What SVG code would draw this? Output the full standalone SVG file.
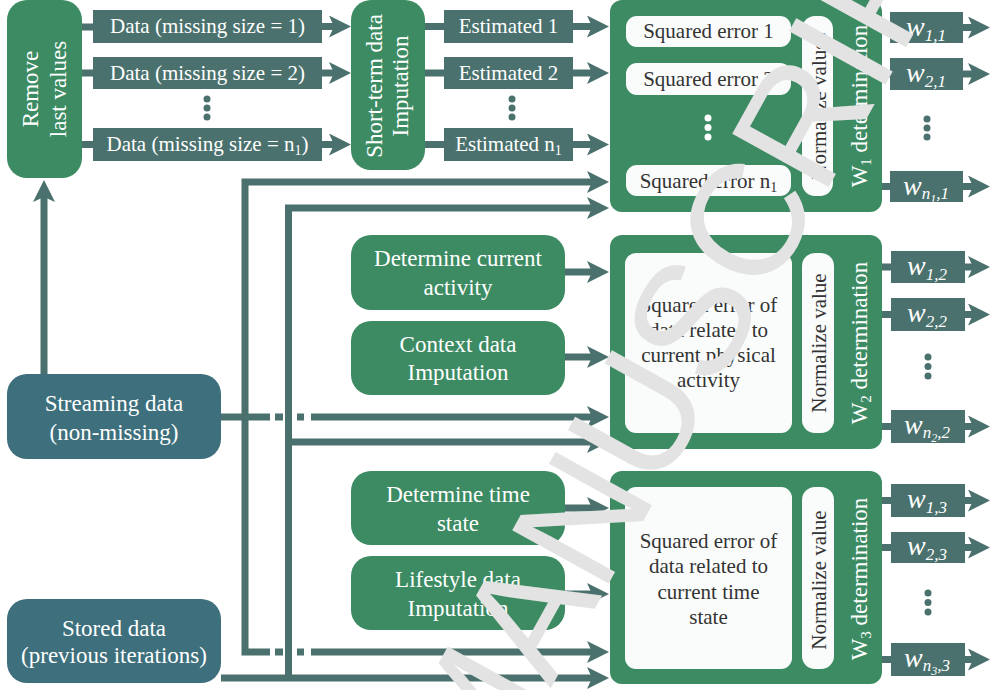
<svg xmlns="http://www.w3.org/2000/svg" width="991" height="690" viewBox="0 0 991 690" font-family="Liberation Serif, Times New Roman, serif">
<defs>
<style>
.g{fill:#3c8b63;}
.s{fill:#4a716d;}
.b{fill:#3d6f7c;}
.w{fill:#fafcfb;}
.tw{font-family:"Liberation Serif","Times New Roman",serif;fill:#ffffff;font-size:21px;text-anchor:middle;}
.tb{font-family:"Liberation Serif","Times New Roman",serif;fill:#ffffff;font-size:23px;text-anchor:middle;}
.td{font-family:"Liberation Serif","Times New Roman",serif;fill:#333333;font-size:21px;text-anchor:middle;}
.wl{font-family:"Liberation Serif","Times New Roman",serif;fill:#ffffff;font-size:28px;font-style:italic;text-anchor:middle;}
.ln{fill:none;stroke:#4a716d;stroke-width:7;}
.ar{marker-end:url(#ah);}
.wm{font-family:"Liberation Sans",Arial,sans-serif;font-size:160px;fill:#e3e3e3;}
</style>
<marker id="ah" viewBox="0 0 22 22" markerWidth="22" markerHeight="22" refX="12" refY="11" orient="auto" markerUnits="userSpaceOnUse">
<path d="M0,0 L22,11 L0,22 L5,11 Z" fill="#4a716d"/>
</marker>
</defs>

<g id="connectors">
<path class="ln" d="M81,27 H93 M81,73 H93 M81,144.5 H93"/>
<path class="ln ar" d="M322,26.5 H341"/>
<path class="ln ar" d="M322,73 H341"/>
<path class="ln ar" d="M322,144.5 H341"/>
<path class="ln" d="M425,26.5 H444 M425,73 H444 M425,144.5 H444"/>
<path class="ln ar" d="M573,26.5 H599"/>
<path class="ln ar" d="M573,73 H599"/>
<path class="ln ar" d="M573,144.5 H599"/>
<path class="ln ar" d="M44,374 V190"/>
<path class="ln ar" d="M270,652 H245 V182 H599"/>
<path class="ln" d="M275,652 H283 M297,652 H304"/>
<path class="ln ar" d="M311,652 H599"/>
<path class="ln" d="M221,417 H270 M275,417 H283 M297,417 H304"/>
<path class="ln ar" d="M311,417 H599"/>
<path class="ln ar" d="M221,678 H599"/>
<path class="ln ar" d="M288.5,678 V208 H599"/>
<path class="ln ar" d="M288.5,442 H599"/>
<path class="ln ar" d="M565,272 H599"/>
<path class="ln ar" d="M565,357 H599"/>
<path class="ln ar" d="M565,508 H599"/>
<path class="ln ar" d="M565,594 H599"/>
<path class="ln" d="M882,27.5 H890 M882,74 H890 M882,186.5 H890 M882,267 H891 M882,314.5 H891 M882,426.5 H891 M882,500.5 H891 M882,547.5 H891 M882,659.5 H891"/>
<path class="ln ar" d="M963,27.5 H980"/>
<path class="ln ar" d="M963,74 H980"/>
<path class="ln ar" d="M963,186.5 H980"/>
<path class="ln ar" d="M965,267 H980"/>
<path class="ln ar" d="M965,314.5 H980"/>
<path class="ln ar" d="M965,426.5 H980"/>
<path class="ln ar" d="M965,500.5 H980"/>
<path class="ln ar" d="M965,547.5 H980"/>
<path class="ln ar" d="M965,659.5 H980"/>
</g>

<g id="remove">
<rect class="g" x="7" y="0" width="75" height="178" rx="20"/>
<text class="tb" transform="translate(38,89) rotate(-90)">Remove</text>
<text class="tb" transform="translate(66,89) rotate(-90)">last values</text>
</g>

<g id="data-rows">
<rect class="s" x="93" y="10" width="229" height="33"/>
<text class="tw" x="207.5" y="33">Data (missing size = 1)</text>
<rect class="s" x="93" y="57" width="229" height="32"/>
<text class="tw" x="207.5" y="80">Data (missing size = 2)</text>
<rect class="s" x="93" y="128" width="229" height="33"/>
<text class="tw" x="207.5" y="151">Data (missing size = n<tspan font-size="14" dy="4">1</tspan><tspan dy="-4">)</tspan></text>
<circle class="s" cx="207" cy="99" r="3.5"/><circle class="s" cx="207" cy="108" r="3.5"/><circle class="s" cx="207" cy="117" r="3.5"/>
</g>

<g id="short-term">
<rect class="g" x="351" y="0" width="74" height="170" rx="20"/>
<text class="tb" transform="translate(382,86) rotate(-90)">Short-term data</text>
<text class="tb" transform="translate(408,86) rotate(-90)">Imputation</text>
</g>

<g id="estimated-rows">
<rect class="s" x="444" y="10" width="129" height="33"/>
<text class="tw" x="508.5" y="33">Estimated 1</text>
<rect class="s" x="444" y="57" width="129" height="32"/>
<text class="tw" x="508.5" y="80">Estimated 2</text>
<rect class="s" x="444" y="128" width="129" height="33"/>
<text class="tw" x="508.5" y="151">Estimated n<tspan font-size="14" dy="4">1</tspan></text>
<circle class="s" cx="512" cy="99" r="3.5"/><circle class="s" cx="512" cy="108" r="3.5"/><circle class="s" cx="512" cy="117" r="3.5"/>
</g>

<g id="w1">
<rect class="g" x="610" y="0" width="272" height="212" rx="12"/>
<rect class="w" x="626" y="16" width="165" height="31" rx="11"/>
<text class="td" x="708.5" y="38">Squared error 1</text>
<rect class="w" x="626" y="63" width="165" height="32" rx="11"/>
<text class="td" x="708.5" y="86">Squared error 2</text>
<rect class="w" x="626" y="165" width="165" height="31" rx="11"/>
<text class="td" x="708.5" y="188">Squared error n<tspan font-size="14" dy="4">1</tspan></text>
<circle fill="#ffffff" cx="708" cy="118" r="3.5"/><circle fill="#ffffff" cx="708" cy="127.5" r="3.5"/><circle fill="#ffffff" cx="708" cy="137" r="3.5"/>
<rect class="w" x="802" y="16" width="31" height="180" rx="13"/>
<text class="td" transform="translate(826,106) rotate(-90)">Normalize values</text>
<text class="tb" transform="translate(867,106) rotate(-90)">W<tspan font-size="15" dy="4">1</tspan><tspan dy="-4"> determination</tspan></text>
</g>

<g id="w1-outputs">
<rect class="s" x="890" y="12" width="73" height="31"/>
<text class="wl" x="926" y="36">w<tspan font-size="17" dy="5">1,1</tspan></text>
<rect class="s" x="890" y="58" width="73" height="32"/>
<text class="wl" x="926" y="82">w<tspan font-size="17" dy="5">2,1</tspan></text>
<rect class="s" x="890" y="171" width="73" height="31"/>
<text class="wl" x="926" y="195">w<tspan font-size="17" dy="4">n</tspan><tspan font-size="12" dy="4">1</tspan><tspan font-size="17" dy="-4">,1</tspan></text>
<circle class="s" cx="927" cy="119" r="3.5"/><circle class="s" cx="927" cy="128" r="3.5"/><circle class="s" cx="927" cy="137" r="3.5"/>
</g>

<g id="determine-activity">
<rect class="g" x="351" y="235" width="214" height="75" rx="20"/>
<text class="tb" x="458" y="266">Determine current</text>
<text class="tb" x="458" y="295">activity</text>
</g>

<g id="context-imputation">
<rect class="g" x="351" y="321" width="214" height="74" rx="20"/>
<text class="tb" x="458" y="352">Context data</text>
<text class="tb" x="458" y="380">Imputation</text>
</g>

<g id="w2">
<rect class="g" x="610" y="235" width="272" height="214" rx="12"/>
<rect class="w" x="625" y="253" width="167" height="180" rx="11"/>
<text class="td" x="708.5" y="312">Squared error of</text>
<text class="td" x="708.5" y="337">data related to</text>
<text class="td" x="708.5" y="362">current physical</text>
<text class="td" x="708.5" y="387">activity</text>
<rect class="w" x="802" y="253" width="32" height="180" rx="13"/>
<text class="td" transform="translate(826,343) rotate(-90)">Normalize value</text>
<text class="tb" transform="translate(867,343) rotate(-90)">W<tspan font-size="15" dy="4">2</tspan><tspan dy="-4"> determination</tspan></text>
</g>

<g id="w2-outputs">
<rect class="s" x="891" y="251" width="74" height="32"/>
<text class="wl" x="927" y="275">w<tspan font-size="17" dy="5">1,2</tspan></text>
<rect class="s" x="891" y="298" width="74" height="33"/>
<text class="wl" x="927" y="322">w<tspan font-size="17" dy="5">2,2</tspan></text>
<rect class="s" x="891" y="410" width="74" height="33"/>
<text class="wl" x="927" y="434">w<tspan font-size="17" dy="4">n</tspan><tspan font-size="12" dy="4">2</tspan><tspan font-size="17" dy="-4">,2</tspan></text>
<circle class="s" cx="928" cy="357" r="3.5"/><circle class="s" cx="928" cy="366.5" r="3.5"/><circle class="s" cx="928" cy="376" r="3.5"/>
</g>

<g id="streaming">
<rect class="b" x="7" y="374" width="214" height="85" rx="20"/>
<text class="tb" x="114" y="411">Streaming data</text>
<text class="tb" x="114" y="440">(non-missing)</text>
</g>

<g id="determine-time">
<rect class="g" x="351" y="471" width="214" height="74" rx="20"/>
<text class="tb" x="458" y="502">Determine time</text>
<text class="tb" x="458" y="531">state</text>
</g>

<g id="lifestyle-imputation">
<rect class="g" x="351" y="556" width="214" height="74" rx="20"/>
<text class="tb" x="458" y="587">Lifestyle data</text>
<text class="tb" x="458" y="616">Imputation</text>
</g>

<g id="w3">
<rect class="g" x="610" y="471" width="272" height="213" rx="12"/>
<rect class="w" x="625" y="487" width="167" height="182" rx="11"/>
<text class="td" x="708.5" y="548">Squared error of</text>
<text class="td" x="708.5" y="573">data related to</text>
<text class="td" x="708.5" y="599">current time</text>
<text class="td" x="708.5" y="624">state</text>
<rect class="w" x="802" y="487" width="32" height="182" rx="13"/>
<text class="td" transform="translate(826,580) rotate(-90)">Normalize value</text>
<text class="tb" transform="translate(867,579) rotate(-90)">W<tspan font-size="15" dy="4">3</tspan><tspan dy="-4"> determination</tspan></text>
</g>

<g id="w3-outputs">
<rect class="s" x="891" y="484" width="74" height="33"/>
<text class="wl" x="927" y="508">w<tspan font-size="17" dy="5">1,3</tspan></text>
<rect class="s" x="891" y="532" width="74" height="31"/>
<text class="wl" x="927" y="555">w<tspan font-size="17" dy="5">2,3</tspan></text>
<rect class="s" x="891" y="643" width="74" height="33"/>
<text class="wl" x="927" y="667">w<tspan font-size="17" dy="4">n</tspan><tspan font-size="12" dy="4">3</tspan><tspan font-size="17" dy="-4">,3</tspan></text>
<circle class="s" cx="928" cy="593" r="3.5"/><circle class="s" cx="928" cy="602.5" r="3.5"/><circle class="s" cx="928" cy="612" r="3.5"/>
</g>

<g id="stored">
<rect class="b" x="7" y="599" width="214" height="84" rx="20"/>
<text class="tb" x="114" y="636">Stored data</text>
<text class="tb" x="114" y="663">(previous iterations)</text>
</g>

<g id="watermark">
<text class="wm" transform="translate(486,805) rotate(-61)">MANUSCRIPT</text>
</g>
</svg>
